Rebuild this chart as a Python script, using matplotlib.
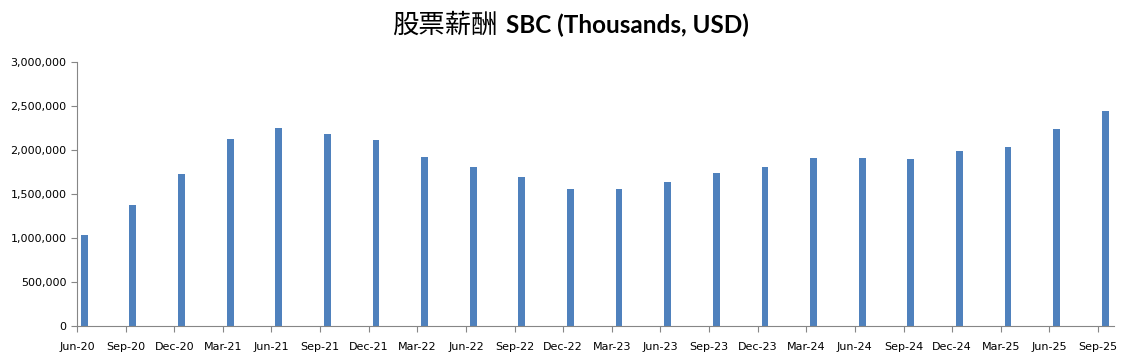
import matplotlib.pyplot as plt
from matplotlib.ticker import FuncFormatter
import numpy as np

# Trimestres y valores de SBC (miles de USD)
trimestres = ['Jun-20', 'Sep-20', 'Dec-20', 'Mar-21', 'Jun-21', 'Sep-21', 'Dec-21', 'Mar-22',
              'Jun-22', 'Sep-22', 'Dec-22', 'Mar-23', 'Jun-23', 'Sep-23', 'Dec-23', 'Mar-24',
              'Jun-24', 'Sep-24', 'Dec-24', 'Mar-25', 'Jun-25', 'Sep-25']
sbc = [1037000, 1378000, 1731000, 2128000, 2253000, 2185000, 2117000, 1924000,
       1810000, 1697000, 1560000, 1560000, 1640000, 1742000, 1810000, 1913000,
       1910000, 1898000, 1990000, 2034000, 2243000, 2443000]

x = np.arange(len(trimestres))

fig = plt.figure(figsize=(11.37, 3.61), dpi=100)
ax = fig.add_axes([0.0677, 0.0961, 0.9121, 0.7319])

# barras finas desplazadas un poco a la derecha del tick (eje de fechas)
ax.bar(x + 0.15, sbc, width=0.14, color='#4F81BD')

ax.set_xlim(0, len(trimestres) - 1 + 0.33)
ax.set_ylim(0, 3000000)
ax.set_yticks(np.arange(0, 3000001, 500000))
ax.yaxis.set_major_formatter(FuncFormatter(lambda v, p: '{:,.0f}'.format(v)))
ax.set_xticks(x)
ax.set_xticklabels(trimestres)

for s in ['top', 'right']:
    ax.spines[s].set_visible(False)
for s in ['left', 'bottom']:
    ax.spines[s].set_color('#868686')
ax.tick_params(axis='both', colors='#868686', labelcolor='black', labelsize=8, length=4, direction='out')
ax.tick_params(axis='x', pad=7)

# Titulo: parte china en peso normal, parte latina en negrita
fig.text(0.4375, 0.931, '股票薪酬', ha='right', va='center',
         fontsize=19, family=['Noto Sans CJK TC', 'DejaVu Sans'])
fig.text(0.445, 0.931, 'SBC (Thousands, USD)', ha='left', va='center',
         fontsize=17.5, fontweight='bold', family=['Lato', 'DejaVu Sans'])

fig.savefig('out.png', dpi=100)
